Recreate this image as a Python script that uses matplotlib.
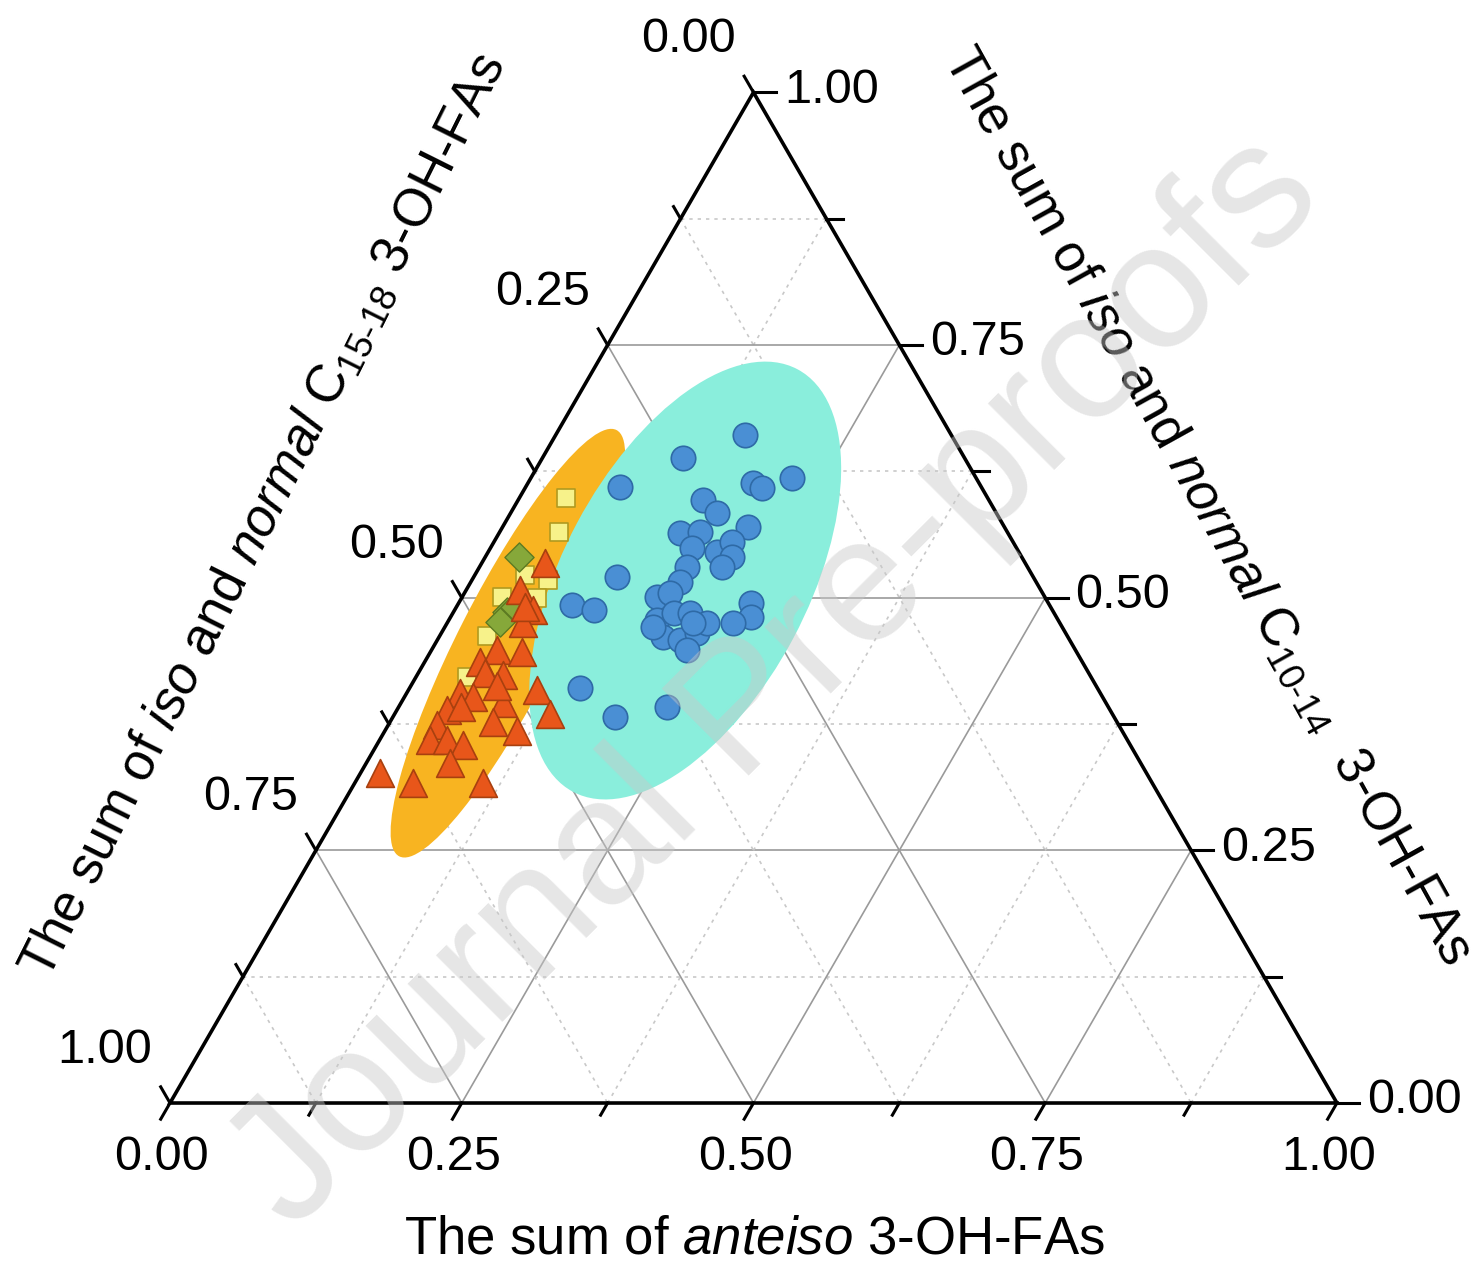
import numpy as np
import matplotlib.pyplot as plt
from matplotlib.patches import Ellipse

plt.rcParams['font.family'] = ['Liberation Sans', 'DejaVu Sans']
plt.rcParams['mathtext.fontset'] = 'custom'
plt.rcParams['mathtext.rm'] = 'Liberation Sans'
plt.rcParams['mathtext.it'] = 'Liberation Sans:italic'

# ternary values: anteiso, iso+normal C10-14, iso+normal C15-18
blue_anteiso = [0.162, 0.121, 0.081, 0.193, 0.203, 0.224, 0.158, 0.177, 0.210, 0.155,
                0.172, 0.173, 0.196, 0.204, 0.212, 0.208, 0.178, 0.179, 0.123, 0.098,
                0.119, 0.167, 0.176, 0.178, 0.189, 0.203, 0.192, 0.208, 0.219, 0.223,
                0.219, 0.178, 0.211, 0.250, 0.257, 0.245, 0.146, 0.190, 0.230]
blue_c10 = [0.661, 0.638, 0.610, 0.614, 0.609, 0.618, 0.597, 0.584, 0.570, 0.564,
            0.565, 0.549, 0.545, 0.555, 0.540, 0.530, 0.530, 0.516, 0.521, 0.493,
            0.488, 0.501, 0.505, 0.478, 0.485, 0.485, 0.461, 0.458, 0.465, 0.475,
            0.448, 0.471, 0.475, 0.495, 0.481, 0.475, 0.411, 0.382, 0.392]
blue_c15 = [0.177, 0.241, 0.310, 0.194, 0.188, 0.158, 0.245, 0.239, 0.220, 0.281,
            0.263, 0.278, 0.259, 0.241, 0.248, 0.262, 0.292, 0.305, 0.357, 0.409,
            0.393, 0.333, 0.320, 0.344, 0.326, 0.312, 0.347, 0.334, 0.316, 0.302,
            0.333, 0.350, 0.314, 0.255, 0.262, 0.280, 0.443, 0.428, 0.378]

tri_anteiso = [0.054, 0.046, 0.067, 0.065, 0.056, 0.079, 0.047, 0.074, 0.057, 0.046,
               0.059, 0.110, 0.133, 0.087, 0.088, 0.113, 0.043, 0.042, 0.043, 0.058,
               0.074, 0.072, 0.017, 0.050, 0.110, 0.053, 0.058, 0.074]
tri_c10 = [0.534, 0.508, 0.488, 0.475, 0.448, 0.446, 0.436, 0.424, 0.426, 0.406,
           0.402, 0.409, 0.385, 0.396, 0.377, 0.368, 0.389, 0.374, 0.359, 0.359,
           0.354, 0.336, 0.327, 0.317, 0.317, 0.392, 0.481, 0.412]
tri_c15 = [0.412, 0.446, 0.445, 0.460, 0.496, 0.475, 0.516, 0.503, 0.518, 0.549,
           0.539, 0.481, 0.482, 0.517, 0.535, 0.519, 0.569, 0.584, 0.598, 0.583,
           0.572, 0.592, 0.657, 0.634, 0.574, 0.555, 0.442, 0.512]

sq_anteiso = [0.040, 0.051, 0.065, 0.034, 0.065, 0.041, 0.044, 0.043]
sq_c10 = [0.599, 0.565, 0.518, 0.501, 0.500, 0.462, 0.422, 0.523]
sq_c15 = [0.361, 0.384, 0.417, 0.466, 0.436, 0.497, 0.535, 0.435]

dia_anteiso = [0.029, 0.046, 0.045, 0.050]
dia_c10 = [0.540, 0.486, 0.476, 0.492]
dia_c15 = [0.431, 0.468, 0.479, 0.460]

tick_vals = [0.0, 0.25, 0.5, 0.75, 1.0]

H = np.sqrt(3) / 2


def tern(a, r, l):
    a, r, l = np.asarray(a, float), np.asarray(r, float), np.asarray(l, float)
    s = a + r + l
    return (a + r / 2) / s, r * H / s


fig = plt.figure(figsize=(14.82, 12.70), dpi=100)
ax = fig.add_axes([0, 0, 1, 1])
ax.set_xlim(-0.1457, 1.1243)
ax.set_ylim(-0.1431, 0.9452)
ax.axis('off')

# grid
for v in np.arange(0.125, 1.0, 0.125):
    major = abs(v / 0.25 - round(v / 0.25)) < 1e-9
    kw = dict(color='#9a9a9a', lw=1.2, ls='-') if major else dict(color='#c8c8c8', lw=1.2, ls=(0, (2, 3)))
    for p, q in [((v, 0, 1 - v), (v, 1 - v, 0)),
                 ((0, v, 1 - v), (1 - v, v, 0)),
                 ((0, 1 - v, v), (1 - v, 0, v))]:
        x0, y0 = tern(*p)
        x1, y1 = tern(*q)
        ax.plot([x0, x1], [y0, y1], zorder=1, **kw)

# ellipses
ell_orange = dict(center=tern(0.062, 0.455, 0.483), width=0.41, height=0.085, angle=63)
ell_cyan = dict(center=tern(0.183, 0.517, 0.300), width=0.41, height=0.21, angle=62)
ax.add_patch(Ellipse(ell_orange['center'], ell_orange['width'], ell_orange['height'],
                     angle=ell_orange['angle'], facecolor='#f8b421', edgecolor='none', zorder=2))
ax.add_patch(Ellipse(ell_cyan['center'], ell_cyan['width'], ell_cyan['height'],
                     angle=ell_cyan['angle'], facecolor='#8aeedc', edgecolor='none', zorder=2))

# frame
tx, ty = tern([1, 0, 0, 1], [0, 0, 1, 0], [0, 1, 0, 0])
ax.plot(tx, ty, color='black', lw=2.6, zorder=5, solid_joinstyle='miter')

# ticks
for v in np.arange(0, 1.0001, 0.125):
    L = 0.016 if abs(v / 0.25 - round(v / 0.25)) < 1e-9 else 0.012
    x, y = tern(v, 0, 1 - v)
    ax.plot([x, x - 0.5 * L], [y, y - H * L], color='black', lw=2.2, zorder=5)
    x, y = tern(1 - v, v, 0)
    ax.plot([x, x + L * 1.2], [y, y], color='black', lw=2.2, zorder=5)
    x, y = tern(0, 1 - v, v)
    ax.plot([x, x - 0.5 * L], [y, y + H * L], color='black', lw=2.2, zorder=5)

fs = 35
for v in tick_vals:
    x, y = tern(v, 0, 1 - v)
    ax.text(x - 0.007, y - 0.047, f'{v:.2f}', ha='center', va='center', fontsize=fs)
    x, y = tern(1 - v, v, 0)
    ax.text(x + 0.026, y + 0.002, f'{v:.2f}', ha='left', va='center', fontsize=fs)
    x, y = tern(0, 1 - v, v)
    ax.text(x - 0.056, y + 0.045, f'{v:.2f}', ha='center', va='center', fontsize=fs)

# points
bx, by = tern(blue_anteiso, blue_c10, blue_c15)
ax.scatter(bx, by, s=310, marker='o', facecolor='#4a8fd4', edgecolor='#2e6aa6', lw=1.2, zorder=6)
qx, qy = tern(sq_anteiso, sq_c10, sq_c15)
ax.scatter(qx, qy, s=170, marker='s', facecolor='#f7f28a', edgecolor='#b09a20', lw=1.2, zorder=6)
dx, dy = tern(dia_anteiso, dia_c10, dia_c15)
ax.scatter(dx, dy, s=220, marker='D', facecolor='#86a83a', edgecolor='#5c7a22', lw=1.0, zorder=6)
rx, ry = tern(tri_anteiso, tri_c10, tri_c15)
ax.scatter(rx, ry, s=400, marker='^', facecolor='#e8561a', edgecolor='#a8400f', lw=1.2, zorder=7)

# axis titles
ax.text(0.501, -0.117, r'The sum of $\mathit{anteiso}$ 3-OH-FAs', ha='center', va='center', fontsize=38)
ax.text(0.080, 0.503, r'The sum of $\mathit{iso}$ and $\mathit{normal}$ C$_{\mathrm{15\text{-}18}}$ 3-OH-FAs',
        ha='center', va='center', rotation=63.5, rotation_mode='anchor', fontsize=38)
ax.text(0.889, 0.512, r'The sum of $\mathit{iso}$ and $\mathit{normal}$ C$_{\mathrm{10\text{-}14}}$  3-OH-FAs',
        ha='center', va='center', rotation=-61, rotation_mode='anchor', fontsize=38)

# watermark
ax.text(0.52, 0.36, 'Journal Pre-proofs', ha='center', va='center', rotation=45,
        rotation_mode='anchor', fontsize=128, color='#c8c8c8', alpha=0.45, zorder=10)

fig.savefig('out.png', dpi=100)
